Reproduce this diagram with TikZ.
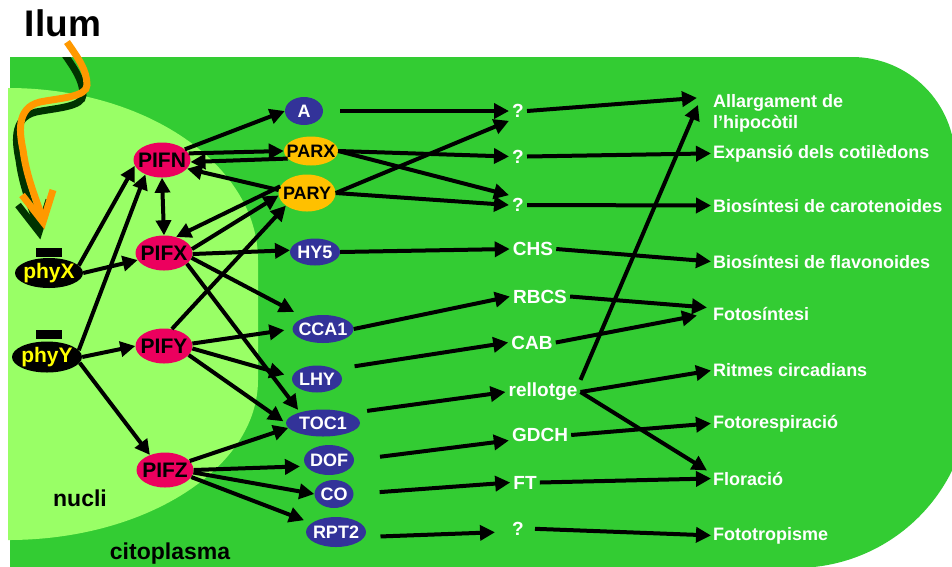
\documentclass[tikz,border=0pt]{standalone}
\usepackage{fontspec}
\setmainfont{Liberation Sans}
\usetikzlibrary{arrows.meta,positioning,calc,shapes.geometric}
\definecolor{cytoGreen}{HTML}{33CC33}
\definecolor{nucGreen}{HTML}{99FF66}
\definecolor{pifPink}{HTML}{EC005E}
\definecolor{geneBlue}{HTML}{333399}
\definecolor{parOrange}{HTML}{FFC000}
\definecolor{lightOrange}{HTML}{FF9900}
\definecolor{shadowGreen}{HTML}{003300}
\definecolor{phyYellow}{HTML}{FFFF00}

\begin{document}
\begin{tikzpicture}[x=1pt,y=-1pt,font=\bfseries,
    >={Triangle[length=15pt,width=15pt]},
    snug/.style={inner sep=0pt,
                 execute at begin node={\hbox to 0pt\bgroup\hss},
                 execute at end node={\hss\egroup}},
    phy/.style={ellipse,snug,fill=black,text=phyYellow,
                font=\fontsize{21}{21}\selectfont\bfseries},
    pif/.style={ellipse,snug,fill=pifPink,minimum width=57pt,minimum height=35pt,
                font=\fontsize{21}{21}\selectfont\bfseries},
    gene/.style={ellipse,snug,fill=geneBlue,text=white,minimum height=28pt,
                 font=\fontsize{18}{18}\selectfont\bfseries},
    parnode/.style={gene,fill=parOrange,text=black},
    inter/.style={text=white,inner sep=3pt,
                  font=\fontsize{19}{19}\selectfont\bfseries},
    effect/.style={text=white,anchor=west,align=left,inner sep=2pt,
                   font=\fontsize{18}{21}\selectfont\bfseries},
    arr/.style={->,line width=4pt},
    light/.style={line width=7pt}]

  \useasboundingbox (0,0) rectangle (952,566);
  \fill[white] (0,0) rectangle (952,566);

  % cell and nucleus
  \fill[cytoGreen] (10,57) -- (852,57) .. controls (909,57) and (955,103) .. (955,160)
      -- (970,393) .. controls (970,490) and (892,568) .. (795,568) -- (10,568) -- cycle;
  \fill[nucGreen] (8,88) .. controls (146,88) and (258,165) .. (258,260) -- (258,380)
      .. controls (258,468) and (146,540) .. (8,540) -- cycle;

  % light
  \node (ilum) at (63,23.5) {\fontsize{37}{37}\selectfont Ilum};
  \begin{scope}
    \clip (0,57) rectangle (952,566);
    \draw[light,shadowGreen,shift={(-4,10)}] (67,42) .. controls (78,58) and (87,70) .. (87,85)
        .. controls (87,97) and (60,98) .. (40,102) .. controls (15,108) and (20,135) .. (23,150)
        .. controls (27,180) and (37,200) .. (42,218);
    \draw[light,shadowGreen,shift={(-4,10)}] (22,195) -- (43,222) -- (53,190);
  \end{scope}
  \draw[light,lightOrange] (67,42) .. controls (78,58) and (87,70) .. (87,85)
      .. controls (87,97) and (60,98) .. (40,102) .. controls (15,108) and (20,135) .. (23,150)
      .. controls (27,180) and (37,200) .. (42,218);
  \draw[light,lightOrange] (22,195) -- (43,222) -- (53,190);

  % phytochromes
  \node[phy,minimum width=68pt,minimum height=30pt] (phyx) at (49,273) {phyX};
  \node[phy,minimum width=70pt,minimum height=31pt] (phyy) at (47,357) {phyY};
  \fill ($(phyx.north)+(-13,-10)$) rectangle +(26,9);
  \fill ($(phyy.north)+(-11,-11)$) rectangle +(26,9);

  % PIFs
  \node[pif] (pifn) at (162,160) {PIFN};
  \node[pif] (pifx) at (164,253) {PIFX};
  \node[pif] (pify) at (164,346) {PIFY};
  \node[pif] (pifz) at (165,470) {PIFZ};

  % target genes
  \node[gene,minimum width=38pt] (a) at (304,111) {A};
  \node[parnode,minimum width=54pt,minimum height=29pt] (parx) at (311,151) {PARX};
  \node[parnode,minimum width=57pt,minimum height=37pt] (pary) at (307,193) {PARY};
  \node[gene,minimum width=50pt,minimum height=27pt] (hy5) at (315,252) {HY5};
  \node[gene,minimum width=61pt] (cca1) at (323,329) {CCA1};
  \node[gene,minimum width=50pt,minimum height=27pt] (lhy) at (317,379) {LHY};
  \node[gene,minimum width=74pt,minimum height=27pt] (toc1) at (323,423) {TOC1};
  \node[gene,minimum width=50pt,minimum height=30pt] (dof) at (329,460) {DOF};
  \node[gene,minimum width=39pt] (co) at (334,494) {CO};
  \node[gene,minimum width=60pt,minimum height=30pt] (rpt2) at (336,532) {RPT2};

  % intermediates
  \node[inter] (qa) at (518,111) {?};
  \node[inter] (qb) at (518,156.5) {?};
  \node[inter] (qc) at (518,205) {?};
  \node[inter] (chs) at (533,249) {CHS};
  \node[inter] (rbcs) at (540,296.5) {RBCS};
  \node[inter] (cab) at (532,342.5) {CAB};
  \node[inter] (clock) at (543,392) {rellotge};
  \node[inter] (gdch) at (540,435) {GDCH};
  \node[inter] (ft) at (525,482.5) {FT};
  \node[inter] (qd) at (518,528.5) {?};

  % responses
  \node[effect] (allarg) at (711,113) {Allargament de\\l’hipocòtil};
  \node[effect] (cotil) at (711,153.4) {Expansió dels cotilèdons};
  \node[effect] (carot) at (711,205.5) {Biosíntesi de carotenoides};
  \node[effect] (flav) at (711,261.5) {Biosíntesi de flavonoides};
  \node[effect] (fotos) at (711,313.5) {Fotosíntesi};
  \node[effect] (ritmes) at (711,370.5) {Ritmes circadians};
  \node[effect] (resp) at (711,423.4) {Fotorespiració};
  \node[effect] (flor) at (711,478.5) {Floració};
  \node[effect] (fotot) at (711,535.4) {Fototropisme};

  \node (nucli) at (80,498.5) {\fontsize{23}{23}\selectfont nucli};
  \node (cito) at (170,554) {\fontsize{23}{23}\selectfont citoplasma};

  % phytochromes to PIFs
  \draw[arr] (phyx.14) -- (pifn.192);
  \draw[arr] (phyx.east) -- (pifx.195);
  \draw[arr] (phyy.12) -- (pifn.221);
  \draw[arr] (phyy.east) -- (pify.west);
  \draw[arr] (phyy.350) -- (pifz.135);
  \draw[<->,line width=4pt] (pifn.south) -- (pifx.north);

  % PIFs to genes
  \draw[arr] (pifn.25) -- (a.west);
  \draw[arr] (pifn.14) -- (parx.west);
  \draw[arr] (parx.198) -- (pifn.356);
  \draw[arr] (pary.174) -- (pifn.341);
  \draw[arr] (pary.166) -- (pifx.53);
  \draw[arr] (pifx.8) -- (pary.185);
  \draw[arr] (pifx.358) -- (hy5.176);
  \draw[arr,shorten >=12pt] (pifx.350) -- (cca1.148);
  \draw[arr,shorten >=3pt] (pifx.335) -- (toc1.155);
  \draw[arr] (pify.65) -- (pary.211);
  \draw[arr,shorten >=8pt] (pify.5) -- (cca1.west);
  \draw[arr,shorten >=8pt] (pify.355) -- (lhy.175);
  \draw[arr,shorten >=3pt] (pify.340) -- (toc1.west);
  \draw[arr] (pifz.20) -- (toc1.188);
  \draw[arr,shorten >=6pt] (pifz.east) -- (dof.195);
  \draw[arr] (pifz.355) -- (co.west);
  \draw[arr,shorten >=8pt] (pifz.345) -- (rpt2.160);

  % genes to intermediates
  \draw[arr,shorten <=17pt] (a.east) -- (qa.west);
  \draw[arr] (pary.east) -- (qa.south west);
  \draw[arr] (parx.east) -- (qb.west);
  \draw[arr] (parx.east) -- (qc.north west);
  \draw[arr] (pary.east) -- (qc.west);
  \draw[arr] (hy5.east) -- (chs.west);
  \draw[arr] (cca1.east) -- (rbcs.west);
  \draw[arr,shorten <=20pt] (lhy.north east) -- (cab.west);
  \draw[arr,shorten <=18pt] (toc1.north east) -- (clock.west);
  \draw[arr,shorten <=26pt] (dof.east) -- (gdch.190);
  \draw[arr,shorten <=26pt] (co.east) -- (ft.west);
  \draw[arr,shorten <=16pt,shorten >=14pt] (rpt2.350) -- (qd.200);

  % intermediates to responses
  \draw[arr] (qa.east) -- ($(allarg.north west)+(-14,6)$);
  \draw[arr] (qb.east) -- (cotil.west);
  \draw[arr] (qc.east) -- (carot.west);
  \draw[arr] (chs.east) -- (flav.west);
  \draw[arr] (rbcs.east) -- ($(fotos.west)+(-4,-6)$);
  \draw[arr] (cab.east) -- ($(fotos.west)+(-14,2)$);
  \draw[arr] (clock.north east) -- ($(allarg.north west)+(-13,13)$);
  \draw[arr] (clock.east) -- (ritmes.west);
  \draw[arr] (clock.east) -- ($(flor.west)+(-4,-8)$);
  \draw[arr] (gdch.east) -- (resp.west);
  \draw[arr] (ft.east) -- (flor.west);
  \draw[arr,shorten <=8pt] (qd.east) -- (fotot.west);
\end{tikzpicture}
\end{document}
